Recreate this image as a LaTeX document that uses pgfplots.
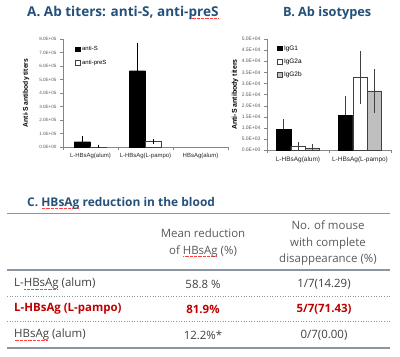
\documentclass[border=0pt]{standalone}
\usepackage{pgfplots}
\pgfplotsset{compat=1.18}
\usepackage{fontspec}
\setmainfont{Open Sans}
\newfontfamily\arial{Liberation Sans}
\definecolor{ttl}{HTML}{24507A}
\definecolor{axgray}{HTML}{868686}
\definecolor{linegray}{HTML}{8C96A0}
\definecolor{txtgray}{HTML}{404040}
\definecolor{hdrgray}{HTML}{595959}
\definecolor{redt}{HTML}{C00000}
\definecolor{barg}{HTML}{BFBFBF}
\newcommand\spell[1]{\setbox0=\hbox{#1}\rlap{\raisebox{-2.4bp}{\color{red!75}\leaders\hbox to 1.3bp{\hss\rule{0.6bp}{0.6bp}\hss}\hskip\wd0}}\box0\relax}
\pgfplotsset{
  sqleg/.style={legend image code/.code={\draw[##1] (0bp,-2bp) rectangle (4.5bp,2.5bp);}},
}
\begin{document}
\begin{tikzpicture}
\path[use as bounding box] (0,0) rectangle (400bp,-357bp);

% ---- titles ----
\node[anchor=west, inner sep=0, text=ttl, font=\bfseries\fontsize{13.6}{15}\selectfont] at (27bp,-13bp) {A. Ab titers: anti-S, anti-\spell{preS}};
\node[anchor=west, inner sep=0, text=ttl, font=\bfseries\fontsize{12.8}{14}\selectfont] at (283bp,-13bp) {B. Ab isotypes};

% ---- chart A ----
\begin{axis}[
  at={(63bp,-147bp)}, anchor=south west,
  scale only axis, width=165bp, height=108bp,
  ybar=0pt, bar width=16bp,
  xmin=-0.5, xmax=2.5, ymin=0, ymax=800000,
  scaled y ticks=false,
  axis lines=left, axis line style={-, draw=axgray},
  tick align=outside, major tick length=3bp,
  tick style={draw=axgray},
  xtick={-0.5,0.5,1.5,2.5},
  x tick label as interval,
  xticklabels={L-HBsAg(alum),L-HBsAg(L-pampo),HBsAg(alum)},
  ytick={0,100000,200000,300000,400000,500000,600000,700000,800000},
  yticklabels={0.0E+00,1.0E+05,2.0E+05,3.0E+05,4.0E+05,5.0E+05,6.0E+05,7.0E+05,8.0E+05},
  /pgf/number format/assume math mode=true,
  xticklabel style={font=\arial\fontsize{6}{7}\selectfont, text=black!85},
  yticklabel style={font=\arial\fontsize{4.6}{5}\selectfont, text=black!65},
  every axis y label/.style={at={(rel axis cs:0,0.5)}, xshift=-37bp, rotate=90, anchor=center, font=\arial\bfseries\fontsize{6.8}{8}\selectfont},
  ylabel={Anti-S antibody titers},
  legend style={at={(rel axis cs:0.073,0.95)}, anchor=north west, draw=none, fill=none, inner sep=0pt, row sep=3.5bp, font=\arial\fontsize{6}{7}\selectfont, /tikz/every even column/.append style={column sep=1bp}},
  legend cell align=left,
]
\addplot[sqleg, fill=black, draw=black, error bars/.cd, y dir=plus, y explicit, error bar style={black, line width=0.6bp}, error mark options={black, mark size=2.5bp, line width=0.6bp}]
 table[x=x, y=y, y error=e] {
x y e
0 39000 25000
1 565000 190000
};
\addplot[sqleg, fill=white, draw=black!75, error bars/.cd, y dir=both, y explicit, error bar style={black, line width=0.6bp}, error mark options={black, mark size=2bp, line width=0.6bp}]
 table[x=x, y=y, y error=e] {
x y e
0 2000 0
1 40000 5000
};
\legend{anti-S, anti-preS}
\end{axis}

% ---- chart B ----
\begin{axis}[
  at={(267bp,-150bp)}, anchor=south west,
  scale only axis, width=124bp, height=111bp,
  ybar=0pt, bar width=14.3bp,
  xmin=-0.5, xmax=1.5, ymin=0, ymax=50000,
  scaled y ticks=false,
  axis lines=left, axis line style={-, draw=axgray},
  tick align=outside, major tick length=3bp,
  tick style={draw=axgray},
  xtick={-0.5,0.5,1.5},
  x tick label as interval,
  xticklabels={L-HBsAg(alum),L-HBsAg(L-pampo)},
  ytick={0,5000,10000,15000,20000,25000,30000,35000,40000,45000,50000},
  yticklabels={0.0E+00,5.0E+03,1.0E+04,1.5E+04,2.0E+04,2.5E+04,3.0E+04,3.5E+04,4.0E+04,4.5E+04,5.0E+04},
  /pgf/number format/assume math mode=true,
  xticklabel style={font=\arial\fontsize{6.5}{7.5}\selectfont, text=black!85},
  yticklabel style={font=\arial\fontsize{5}{6}\selectfont, text=black!65},
  every axis y label/.style={at={(rel axis cs:0,0.5)}, xshift=-32bp, rotate=90, anchor=center, font=\arial\bfseries\fontsize{7}{8}\selectfont},
  ylabel={Anti-S antibody titers},
  legend style={at={(rel axis cs:0.08,0.96)}, anchor=north west, draw=none, fill=none, inner sep=0pt, row sep=3.2bp, font=\arial\fontsize{6.5}{7.5}\selectfont, /tikz/every even column/.append style={column sep=1bp}},
  legend cell align=left,
]
\addplot[sqleg, fill=black, draw=black, error bars/.cd, y dir=plus, y explicit, error bar style={black!75, line width=0.6bp}, error mark options={black!75, mark size=2.5bp, line width=0.6bp}]
 table[x=x, y=y, y error=e] {
x y e
0 9300 3500
1 15700 7500
};
\addplot[sqleg, fill=white, draw=black!75, error bars/.cd, y dir=both, y explicit, error bar style={black!75, line width=0.6bp}, error mark options={black!75, mark size=2.5bp, line width=0.6bp}]
 table[x=x, y=y, y error=e] {
x y e
0 1600 1000
1 32600 10800
};
\addplot[sqleg, fill=barg, draw=black!75, error bars/.cd, y dir=both, y explicit, error bar style={black!75, line width=0.6bp}, error mark options={black!75, mark size=2.5bp, line width=0.6bp}]
 table[x=x, y=y, y error=e] {
x y e
0 1000 500
1 26600 8700
};
\legend{IgG1, IgG2a, IgG2b}
\end{axis}

% ---- table C ----
\node[anchor=west, inner sep=0, text=ttl, font=\bfseries\fontsize{12}{14}\selectfont] at (27bp,-203bp) {C. \spell{HBsAg} reduction in the blood};
\draw[linegray, line width=1.3bp] (7bp,-213.5bp) -- (390bp,-213.5bp);
\draw[linegray, line width=2bp] (7bp,-269.5bp) -- (390bp,-269.5bp);
\draw[linegray, line width=1bp, dash pattern=on 1bp off 1.6bp] (7bp,-296bp) -- (390bp,-296bp);
\draw[linegray, line width=1bp, dash pattern=on 1bp off 1.6bp] (7bp,-321bp) -- (390bp,-321bp);
\draw[linegray, line width=2bp] (7bp,-347.5bp) -- (390bp,-347.5bp);

\node[align=center, inner sep=0, text=hdrgray, font=\fontsize{11.5}{17}\selectfont] at (203bp,-243bp) {Mean reduction\\of \spell{HBsAg} (\%)};
\node[align=center, inner sep=0, text=hdrgray, font=\fontsize{11.5}{16.5}\selectfont] at (328bp,-243bp) {No. of mouse\\with complete\\disappearance (\%)};

\node[anchor=west, inner sep=0, text=txtgray, font=\fontsize{11.5}{14}\selectfont] at (14bp,-284bp) {L-\spell{HBsAg} (alum)};
\node[inner sep=0, text=txtgray, font=\fontsize{11.5}{14}\selectfont] at (203bp,-284bp) {58.8 \%};
\node[inner sep=0, text=txtgray, font=\fontsize{11.5}{14}\selectfont] at (324bp,-284bp) {1/7(14.29)};

\node[anchor=west, inner sep=0, text=redt, font=\bfseries\fontsize{11.5}{14}\selectfont] at (14bp,-309bp) {L-HBsAg (L-pampo)};
\node[inner sep=0, text=redt, font=\bfseries\fontsize{11.5}{14}\selectfont] at (203bp,-309bp) {81.9\%};
\node[inner sep=0, text=redt, font=\bfseries\fontsize{11.5}{14}\selectfont] at (324bp,-309bp) {5/7(71.43)};

\node[anchor=west, inner sep=0, text=txtgray, font=\fontsize{11.5}{14}\selectfont] at (14bp,-335bp) {\spell{HBsAg} (alum)};
\node[inner sep=0, text=txtgray, font=\fontsize{11.5}{14}\selectfont] at (203bp,-335bp) {12.2\%*};
\node[inner sep=0, text=txtgray, font=\fontsize{11.5}{14}\selectfont] at (324bp,-335bp) {0/7(0.00)};
\end{tikzpicture}
\end{document}
